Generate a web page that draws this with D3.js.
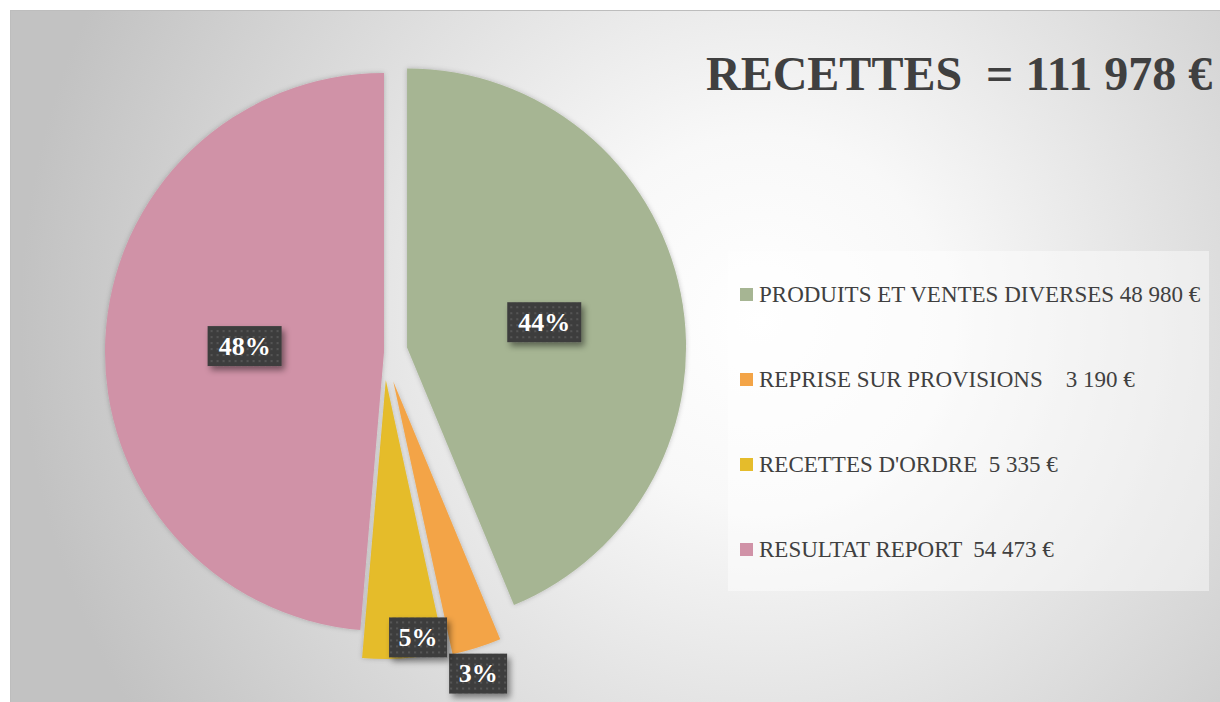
<!DOCTYPE html>
<html>
<head>
<meta charset="utf-8">
<script src="https://cdn.jsdelivr.net/npm/d3@7/dist/d3.min.js"></script>
<style>
  html, body { margin: 0; padding: 0; background: #ffffff; }
  svg { display: block; }
  text { white-space: pre; }
</style>
</head>
<body>
<svg id="chart" width="1220" height="702"></svg>
<script>
// ---- data ----
const categories = ["PRODUITS ET VENTES DIVERSES", "REPRISE SUR PROVISIONS", "RECETTES D'ORDRE", "RESULTAT REPORT"];
const values = [48980, 3190, 5335, 54473];
const percentLabels = ["44%", "3%", "5%", "48%"];
const legendLabels = ["PRODUITS ET VENTES DIVERSES 48 980 €", "REPRISE SUR PROVISIONS    3 190 €", "RECETTES D'ORDRE  5 335 €", "RESULTAT REPORT  54 473 €"];
const titleText = "RECETTES  = 111 978 €";

// ---- styles ----
const colors = ["#A6B593", "#F3A447", "#E5BC2B", "#D092A7"];
const explode = [23.5, 31, 28, 0];          // px, along the slice bisector
const labelRadius = [0.5, 1.09, 0.93, 0.5];  // fraction of radius from slice apex
const labelAngleShift = [0.015, 0.021, -0.06, 0];  // radians
const textColor = "#404040";

const W = 1220, H = 702;
const svg = d3.select("#chart");
const defs = svg.append("defs");

// background gradient
const bg = defs.append("radialGradient").attr("id", "bg")
  .attr("gradientUnits", "userSpaceOnUse")
  .attr("cx", 760).attr("cy", 320).attr("r", 740);
bg.append("stop").attr("offset", 0).attr("stop-color", "#ffffff");
bg.append("stop").attr("offset", 0.25).attr("stop-color", "#f8f8f8");
bg.append("stop").attr("offset", 1).attr("stop-color", "#c2c2c2");

// label box pattern
const pat = defs.append("pattern").attr("id", "dots")
  .attr("patternUnits", "userSpaceOnUse").attr("width", 6).attr("height", 6);
pat.append("rect").attr("width", 6).attr("height", 6).attr("fill", "#3e3e3e");
pat.append("rect").attr("x", 2).attr("y", 2).attr("width", 2).attr("height", 2).attr("fill", "#555555");

// shadows
const sh = defs.append("filter").attr("id", "boxShadow")
  .attr("x", "-20%").attr("y", "-20%").attr("width", "150%").attr("height", "160%");
sh.append("feDropShadow").attr("dx", 3).attr("dy", 4).attr("stdDeviation", 3)
  .attr("flood-color", "#000").attr("flood-opacity", 0.45);
const ssh = defs.append("filter").attr("id", "sliceShadow")
  .attr("x", "-10%").attr("y", "-10%").attr("width", "120%").attr("height", "120%");
ssh.append("feDropShadow").attr("dx", 0).attr("dy", 0).attr("stdDeviation", 2.5)
  .attr("flood-color", "#000").attr("flood-opacity", 0.22);

// chart area
svg.append("rect").attr("x", 10).attr("y", 10).attr("width", W - 10).attr("height", H - 10)
  .attr("fill", "url(#bg)");
svg.append("line").attr("x1", 10).attr("x2", W).attr("y1", 10.5).attr("y2", 10.5)
  .attr("stroke", "#bdbdbd").attr("stroke-width", 1);
svg.append("line").attr("x1", 10.5).attr("x2", 10.5).attr("y1", 10).attr("y2", H)
  .attr("stroke", "#bdbdbd").attr("stroke-width", 1);

// ---- pie ----
const cx = 384, cy = 352, R = 279;
const pie = d3.pie().sort(null).value(d => d)(values);
const arc = d3.arc().innerRadius(0).outerRadius(R);

const g = svg.append("g").attr("transform", `translate(${cx},${cy})`);
const mid = d => (d.startAngle + d.endAngle) / 2;

g.selectAll("path.slice").data(pie).join("path")
  .attr("class", "slice")
  .attr("d", arc)
  .attr("fill", (d, i) => colors[i])
  .attr("filter", "url(#sliceShadow)")
  .attr("transform", (d, i) => {
    const a = mid(d);
    return `translate(${explode[i] * Math.sin(a)},${-explode[i] * Math.cos(a)})`;
  });

// labels
const lbl = g.selectAll("g.lbl").data(pie).join("g").attr("class", "lbl")
  .attr("transform", (d, i) => {
    const a = mid(d);
    const ox = explode[i] * Math.sin(a), oy = -explode[i] * Math.cos(a);
    const b = a + labelAngleShift[i];
    const rr = labelRadius[i] * R;
    return `translate(${ox + rr * Math.sin(b)},${oy - rr * Math.cos(b)})`;
  });
lbl.append("rect")
  .attr("x", (d, i) => percentLabels[i].length > 2 ? -37 : -29)
  .attr("y", -20)
  .attr("width", (d, i) => percentLabels[i].length > 2 ? 74 : 58)
  .attr("height", 40)
  .attr("fill", "url(#dots)")
  .attr("filter", "url(#boxShadow)");
lbl.append("text")
  .attr("text-anchor", "middle")
  .attr("dy", "0.34em")
  .attr("fill", "#ffffff")
  .attr("font-family", "'Liberation Serif', serif")
  .attr("font-weight", "bold")
  .attr("font-size", 26)
  .text((d, i) => percentLabels[i]);

// ---- title ----
svg.append("text")
  .attr("x", 706).attr("y", 90)
  .attr("fill", textColor)
  .attr("font-family", "'Liberation Serif', serif")
  .attr("font-weight", "bold")
  .attr("font-size", 48)
  .text(titleText);

// ---- legend ----
svg.append("rect").attr("x", 728).attr("y", 251).attr("width", 481).attr("height", 340)
  .attr("fill", "#ffffff").attr("fill-opacity", 0.45);
const ly = d3.scalePoint().domain(categories).range([294, 549]);
const leg = svg.selectAll("g.leg").data(categories).join("g").attr("class", "leg")
  .attr("transform", d => `translate(740,${ly(d)})`);
leg.append("rect").attr("x", 0).attr("y", -6).attr("width", 13).attr("height", 13)
  .attr("fill", (d, i) => colors[i]);
leg.append("text")
  .attr("x", 19).attr("y", 0).attr("dy", "0.36em")
  .attr("fill", textColor)
  .attr("font-family", "'Liberation Serif', serif")
  .attr("font-size", 23)
  .text((d, i) => legendLabels[i]);
</script>
</body>
</html>
